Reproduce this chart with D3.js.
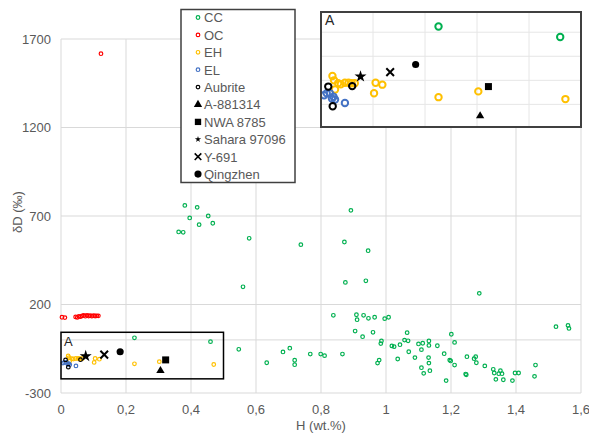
<!DOCTYPE html>
<html>
<head>
<meta charset="utf-8">
<script src="https://cdn.jsdelivr.net/npm/d3@7"></script>
<style>
  body { margin: 0; background: #fff; }
  text { font-family: 'Liberation Sans', Arial, sans-serif; }
</style>
</head>
<body>
<svg id="chart" width="589" height="433"></svg>
<script>
// H (wt.%), δD (‰)
const cc = [
  [0.226, 12], [0.46, -10], [0.381, 760], [0.419, 749], [0.396, 689], [0.453, 700],
  [0.425, 651], [0.467, 659], [0.362, 610], [0.376, 608], [0.579, 574], [0.56, 300],
  [0.738, 538], [0.892, 732], [0.872, 553], [0.945, 504], [0.875, 325], [0.938, 334],
  [0.838, 139], [0.909, 142], [0.931, 139], [0.911, 114], [0.946, 122], [0.965, 128],
  [0.996, 120], [1.008, 128], [0.905, 50], [0.928, 18], [0.96, 43], [0.986, -6],
  [0.984, -21], [1.018, -34], [1.025, -38], [1.036, -108], [0.974, -131], [0.979, -114],
  [0.547, -53], [0.633, -129], [0.683, -68], [0.704, -47], [0.719, -115], [0.719, -140],
  [0.767, -80], [0.799, -80], [0.811, -89], [0.866, -80],
  [1.287, 263], [1.523, 75], [1.56, 82], [1.563, 65], [1.065, 41], [1.201, 32],
  [1.057, -1], [1.068, -5], [1.1, -23], [1.113, -19], [1.132, -6], [1.132, -31],
  [1.211, -14], [1.043, -27], [1.158, -33], [1.07, -67], [1.109, -55], [1.179, -78],
  [1.089, -100], [1.131, -100], [1.132, -131], [1.196, -114], [1.199, -119], [1.211, -142],
  [1.109, -157], [1.116, -189], [1.135, -174], [1.185, -230], [1.249, -95], [1.245, -193],
  [1.247, -197], [1.271, -106], [1.276, -95], [1.278, -129], [1.304, -147], [1.33, -166],
  [1.333, -187], [1.338, -223], [1.347, -191], [1.352, -174], [1.357, -191], [1.361, -225],
  [1.389, -230], [1.397, -187], [1.408, -187], [1.46, -142], [1.457, -206]
]
const oc = [
  [0.003, 128], [0.012, 126], [0.045, 130], [0.05, 127], [0.055, 133], [0.06, 131],
  [0.065, 136], [0.07, 138], [0.075, 134], [0.08, 139], [0.085, 135], [0.09, 137],
  [0.095, 134], [0.1, 137], [0.105, 135], [0.11, 136], [0.115, 136], [0.123, 1617]
]
const eh = [
  [0.022, -91], [0.025, -100], [0.033, -106], [0.038, -108], [0.046, -105], [0.053, -105],
  [0.059, -106], [0.065, -106], [0.027, -119], [0.105, -105], [0.118, -109], [0.102, -127],
  [0.226, -135], [0.3025, -123], [0.47, -139]
]
const el = [
  [0.006, -131], [0.011, -127], [0.017, -127], [0.024, -134], [0.027, -140], [0.021, -138],
  [0.046, -147]
]
const aubrite = [[0.014, -113], [0.06, -112], [0.0225, -154]]

const a881314 = [0.306, -174]
const nwa8785 = [0.322, -113]
const sahara97096 = [0.076, -92]
const y691 = [0.133, -83]
const qingzhen = [0.182, -67]

const xTicks = [0, 0.2, 0.4, 0.6, 0.8, 1, 1.2, 1.4, 1.6]
const yTicks = [-300, 200, 700, 1200, 1700]
const insetXTicks = [0.1, 0.2, 0.3, 0.4]
const insetYTicks = [-150, -100, -50, 0]
const boxExtent = { x: [0, 0.5], y: [-220, 43] }

const svg = d3.select('#chart')
const fmt = d => String(d).replace('.', ',')

const x = d3.scaleLinear().domain([0, 1.6]).range([61, 581])
const y = d3.scaleLinear().domain([-300, 1700]).range([393, 39])

const gridColor = '#d9d9d9'
const labelColor = '#595959'

// grid
svg.append('g')
  .selectAll('line')
  .data(xTicks)
  .enter()
  .append('line')
  .attr('x1', d => x(d)).attr('x2', d => x(d))
  .attr('y1', y(1700)).attr('y2', y(-300))
  .attr('stroke', gridColor)

svg.append('g')
  .selectAll('line')
  .data(yTicks.concat([0]))
  .enter()
  .append('line')
  .attr('x1', x(0)).attr('x2', x(1.6))
  .attr('y1', d => y(d)).attr('y2', d => y(d))
  .attr('stroke', gridColor)

// tick labels
svg.append('g')
  .selectAll('text')
  .data(xTicks)
  .enter()
  .append('text')
  .attr('x', d => x(d))
  .attr('y', 414)
  .attr('text-anchor', 'middle')
  .attr('font-size', 13)
  .attr('fill', labelColor)
  .text(fmt)

svg.append('g')
  .selectAll('text')
  .data(yTicks)
  .enter()
  .append('text')
  .attr('x', 51)
  .attr('y', d => y(d) + 4.5)
  .attr('text-anchor', 'end')
  .attr('font-size', 13)
  .attr('fill', labelColor)
  .text(d => d)

svg.append('text')
  .attr('x', 321)
  .attr('y', 430)
  .attr('text-anchor', 'middle')
  .attr('font-size', 13)
  .attr('fill', labelColor)
  .text('H (wt.%)')

svg.append('text')
  .attr('transform', 'translate(22,212) rotate(-90)')
  .attr('text-anchor', 'middle')
  .attr('font-size', 13)
  .attr('fill', labelColor)
  .text('δD (‰)')

const series = [
  { name: 'CC', data: cc, color: '#00b050' },
  { name: 'OC', data: oc, color: '#ff0000' },
  { name: 'EH', data: eh, color: '#ffc000' },
  { name: 'EL', data: el, color: '#4472c4' },
  { name: 'Aubrite', data: aubrite, color: '#000000' }
]

const specials = [
  { name: 'A-881314', d: a881314, type: d3.symbolTriangle, size: 30, fill: true },
  { name: 'NWA 8785', d: nwa8785, type: d3.symbolSquare, size: 49, fill: true },
  { name: 'Sahara 97096', d: sahara97096, type: d3.symbolStar, size: 45, fill: true },
  { name: 'Y-691', d: y691, type: d3.symbolX, size: 40, fill: false },
  { name: 'Qingzhen', d: qingzhen, type: d3.symbolCircle, size: 40, fill: true }
]

function drawPoints(g, xs, ys, r, sw) {
  series.forEach(s => {
    g.append('g')
      .selectAll('circle')
      .data(s.data)
      .enter()
      .append('circle')
      .attr('cx', d => xs(d[0]))
      .attr('cy', d => ys(d[1]))
      .attr('r', r)
      .attr('fill', 'none')
      .attr('stroke', s.color)
      .attr('stroke-width', sw)
  })
  g.append('g')
    .selectAll('path')
    .data(specials)
    .enter()
    .append('path')
    .attr('transform', s => `translate(${xs(s.d[0])},${ys(s.d[1])})`)
    .attr('d', s => d3.symbol().type(s.type).size(s.size)())
    .attr('fill', s => (s.fill ? '#000' : 'none'))
    .attr('stroke', s => (s.fill ? 'none' : '#000'))
    .attr('stroke-width', 2)
}

drawPoints(svg.append('g'), x, y, 1.8, 1.2)

// zoom box A in the main plot
svg.append('rect')
  .attr('x', x(boxExtent.x[0]))
  .attr('y', y(boxExtent.y[1]))
  .attr('width', x(boxExtent.x[1]) - x(boxExtent.x[0]))
  .attr('height', y(boxExtent.y[0]) - y(boxExtent.y[1]))
  .attr('fill', 'none')
  .attr('stroke', '#000')
  .attr('stroke-width', 1.5)

svg.append('text')
  .attr('x', 64)
  .attr('y', 346)
  .attr('font-size', 13)
  .attr('fill', '#262626')
  .text('A')

// legend
const legend = svg.append('g')
legend.append('rect')
  .attr('x', 181).attr('y', 9.5)
  .attr('width', 114).attr('height', 173)
  .attr('fill', '#fff')
  .attr('stroke', '#404040')
  .attr('stroke-width', 1.5)

const legendItems = series.map(s => ({ name: s.name, kind: 'circle', color: s.color }))
  .concat(specials.map(s => ({ name: s.name, kind: 'symbol', s: s })))

const item = legend.selectAll('.item')
  .data(legendItems)
  .enter()
  .append('g')
  .attr('transform', (d, i) => `translate(198,${17.5 + i * 17.4})`)

item.filter(d => d.kind === 'circle')
  .append('circle')
  .attr('r', 1.8)
  .attr('fill', 'none')
  .attr('stroke', d => d.color)
  .attr('stroke-width', 1.2)

item.filter(d => d.kind === 'symbol')
  .append('path')
  .attr('d', d => {
    const size = d.s.name === 'Sahara 97096' ? 12 : d.s.name === 'Y-691' ? 30 : d.s.name === 'NWA 8785' ? 40 : d.s.size
    return d3.symbol().type(d.s.type).size(size)()
  })
  .attr('fill', d => (d.s.fill ? '#000' : 'none'))
  .attr('stroke', d => (d.s.fill ? 'none' : '#000'))
  .attr('stroke-width', 1.6)

item.append('text')
  .attr('x', 6)
  .attr('y', 4.8)
  .attr('font-size', 13)
  .attr('fill', labelColor)
  .text(d => d.name)

// inset A
const ix = d3.scaleLinear().domain([0, 0.5]).range([321, 581])
const iy = d3.scaleLinear().domain([-197, 42]).range([127, 12])

const inset = svg.append('g')
inset.append('defs').append('clipPath').attr('id', 'inset-clip')
  .append('rect')
  .attr('x', 321).attr('y', 12).attr('width', 260).attr('height', 115)

inset.append('rect')
  .attr('x', 321).attr('y', 12).attr('width', 260).attr('height', 115)
  .attr('fill', '#fff')

inset.append('g')
  .selectAll('line')
  .data(insetXTicks)
  .enter()
  .append('line')
  .attr('x1', d => ix(d)).attr('x2', d => ix(d))
  .attr('y1', 12).attr('y2', 127)
  .attr('stroke', '#e6e6e6')

inset.append('g')
  .selectAll('line')
  .data(insetYTicks)
  .enter()
  .append('line')
  .attr('x1', 321).attr('x2', 581)
  .attr('y1', d => iy(d)).attr('y2', d => iy(d))
  .attr('stroke', '#e6e6e6')

drawPoints(inset.append('g').attr('clip-path', 'url(#inset-clip)'), ix, iy, 3.2, 2)

inset.append('rect')
  .attr('x', 321).attr('y', 12).attr('width', 260).attr('height', 115)
  .attr('fill', 'none')
  .attr('stroke', '#404040')
  .attr('stroke-width', 2)

inset.append('text')
  .attr('x', 325)
  .attr('y', 25)
  .attr('font-size', 14)
  .attr('fill', '#262626')
  .text('A')
</script>
</body>
</html>
